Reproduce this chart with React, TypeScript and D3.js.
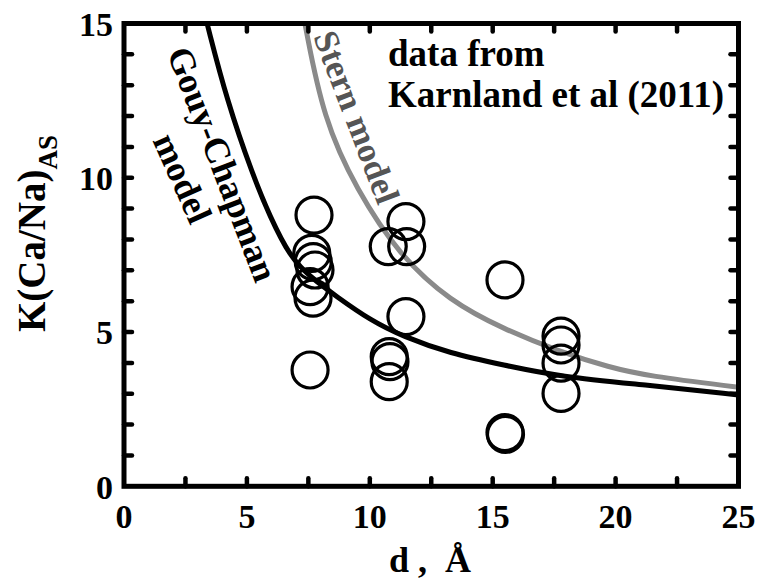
import React from "react";
import * as d3 from "d3";

// Data
const obsD = [7.73, 7.64, 7.7, 7.77, 7.57, 7.69, 7.57, 11.47, 10.75, 11.5, 11.47, 10.79, 10.82, 10.79, 15.5, 15.5, 15.52, 17.78, 17.78, 17.78, 17.78];
const obsK = [8.79, 7.55, 7.28, 7.01, 6.47, 6.1, 3.77, 8.58, 7.77, 7.77, 5.5, 4.2, 4.04, 3.39, 6.69, 1.74, 1.68, 4.87, 4.58, 3.99, 3.01];

const gcD = [3.38, 4.18, 5.26, 5.94, 6.75, 7.57, 8.65, 10.01, 11.36, 13.26, 15.43, 17.74, 21.27, 25.0];
const gcK = [15.0, 12.52, 10.04, 8.74, 7.44, 6.79, 6.15, 5.39, 4.85, 4.31, 3.93, 3.55, 3.28, 2.96];

const sternD = [7.36, 8.11, 9.47, 11.19, 13.26, 15.43, 17.74, 19.77, 21.27, 25.0];
const sternK = [15.0, 11.9, 9.6, 7.5, 6.0, 5.1, 4.36, 3.85, 3.58, 3.21];

const xTickLabels = [0, 5, 10, 15, 20, 25];
const yTickLabels = [0, 5, 10, 15];
const xMinorTicks = [2.5, 5, 7.5, 10, 12.5, 15, 17.5, 20, 22.5];
const yMinorTicks = [1, 2, 3, 4, 5, 6, 7, 8, 9, 10, 11, 12, 13, 14];

const W = 772;
const H = 580;
const L = 124, R = 738.5, T = 23.5, B = 486.3;
const FONT = "Liberation Serif";

function T_(props: any) {
  const { children, ...rest } = props;
  return (
    <text fontFamily={FONT} fontWeight="bold" fill="#000" {...rest}>
      {children}
    </text>
  );
}

export default function App() {
  const x = d3.scaleLinear().domain([0, 25]).range([L, R]);
  const y = d3.scaleLinear().domain([0, 15]).range([B, T]);
  const line = d3
    .line<[number, number]>()
    .x((p) => x(p[0]))
    .y((p) => y(p[1]))
    .curve(d3.curveBasis);
  const gcPath = line(gcD.map((d, i) => [d, gcK[i]] as [number, number])) || "";
  const sternPath = line(sternD.map((d, i) => [d, sternK[i]] as [number, number])) || "";
  const tl = 8;

  return (
    <svg width={W} height={H} style={{ position: "absolute", left: 0, top: 0 }}>
      <rect x={0} y={0} width={W} height={H} fill="#fff" />
      <defs>
        <clipPath id="plotclip">
          <rect x={L} y={T} width={R - L} height={B - T} />
        </clipPath>
      </defs>
      <g clipPath="url(#plotclip)">
        <path d={sternPath} fill="none" stroke="#8a8a8a" strokeWidth={5} />
        <path d={gcPath} fill="none" stroke="#000" strokeWidth={5} />
        {obsD.map((d, i) => (
          <circle key={i} cx={x(d)} cy={y(obsK[i])} r={18} fill="none" stroke="#000" strokeWidth={3.2} />
        ))}
      </g>

      {/* annotations */}
      <T_ x={388} y={66} fontSize={37}>data from</T_>
      <T_ x={388} y={107} fontSize={37}>Karnland et al (2011)</T_>
      <T_ transform="translate(223,164) rotate(69)" textAnchor="middle" dy="0.35em" fontSize={36}>Gouy-Chapman</T_>
      <T_ transform="translate(183,178) rotate(66)" textAnchor="middle" dy="0.35em" fontSize={36}>model</T_>
      <T_ transform="translate(357,117) rotate(69)" textAnchor="middle" dy="0.35em" fontSize={35} fill="#555">Stern model</T_>

      {/* frame ticks */}
      {xMinorTicks.map((t) => (
        <g key={"xt" + t}>
          <line x1={x(t)} x2={x(t)} y1={B} y2={B - tl} stroke="#000" strokeWidth={4.5} strokeLinecap="round" />
          <line x1={x(t)} x2={x(t)} y1={T} y2={T + tl} stroke="#000" strokeWidth={4.5} strokeLinecap="round" />
        </g>
      ))}
      {yMinorTicks.map((t) => (
        <g key={"yt" + t}>
          <line x1={L} x2={L + tl} y1={y(t)} y2={y(t)} stroke="#000" strokeWidth={4.5} strokeLinecap="round" />
          <line x1={R} x2={R - tl} y1={y(t)} y2={y(t)} stroke="#000" strokeWidth={4.5} strokeLinecap="round" />
        </g>
      ))}
      <rect x={L} y={T} width={R - L} height={B - T} fill="none" stroke="#000" strokeWidth={5} />

      {/* tick labels */}
      {xTickLabels.map((t) => (
        <T_ key={"xl" + t} x={x(t)} y={528} textAnchor="middle" fontSize={34}>
          {t}
        </T_>
      ))}
      {yTickLabels.map((t) => (
        <T_ key={"yl" + t} x={113} y={y(t)} dy="0.36em" textAnchor="end" fontSize={34}>
          {t}
        </T_>
      ))}

      {/* axis titles */}
      <T_ x={430} y={572} textAnchor="middle" fontSize={36} style={{ whiteSpace: "pre" }}>
        {"d ,  Å"}
      </T_>
      <T_ transform="translate(45,332) rotate(-90)" fontSize={39}>
        K(Ca/Na)
        <tspan fontSize={27} dy={12}>AS</tspan>
      </T_>
    </svg>
  );
}
